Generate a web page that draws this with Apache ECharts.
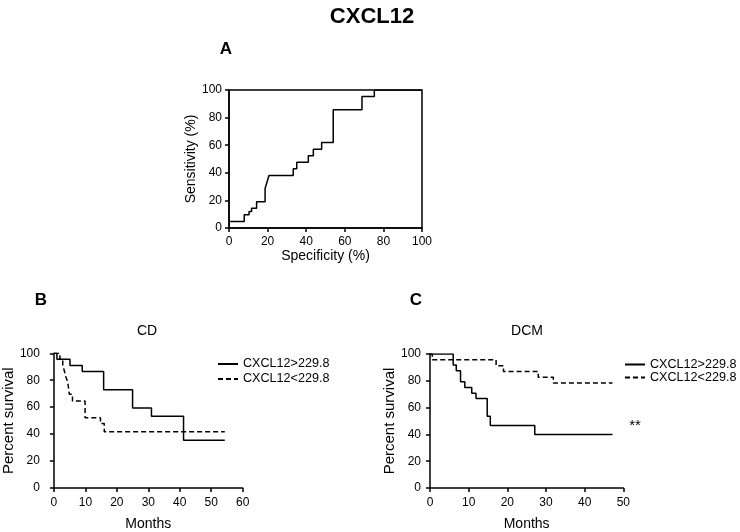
<!DOCTYPE html>
<html>
<head>
<meta charset="utf-8">
<script src="https://cdn.jsdelivr.net/npm/echarts@6/dist/echarts.min.js"></script>
<style>html,body{margin:0;padding:0;background:#fff;}#c{width:740px;height:532px;}</style>
</head>
<body>
<div id="c"></div>
<script>
// Panel A: ROC curve
const rocSpecificity = [0, 7.9, 10.4, 11.7, 14.3, 18.7, 19.7, 20.7, 33.3, 35.1, 41.1, 43.7, 48.0, 54.0, 68.9, 75.3, 100];
const rocSensitivity = [4.76, 9.52, 11.9, 14.29, 19.05, 28.57, 33.33, 38.10, 42.86, 47.62, 52.38, 57.14, 61.90, 85.71, 95.24, 100, 100];
// Panel B: CD survival
const cdHighMonths = [0, 0.95, 5.1, 9.0, 15.8, 25.0, 31.0, 41.2, 54.3];
const cdHighSurv   = [100, 95.5, 90.9, 86.4, 72.9, 59.4, 53.3, 35.5, 35.5];
const cdLowMonths  = [0, 1.9, 2.8, 3.3, 3.8, 4.4, 4.9, 5.9, 9.9, 14.8, 16.0, 54.3];
const cdLowSurv    = [100, 95.7, 91.3, 87.0, 82.6, 78.3, 69.6, 64.5, 52.2, 47.8, 41.7, 41.7];
// Panel C: DCM survival
const dcmHighMonths = [0, 6.0, 6.8, 7.9, 9.0, 10.8, 11.9, 14.8, 15.6, 27.1, 47.2];
const dcmHighSurv   = [100, 91.7, 87.5, 79.2, 75.0, 70.8, 66.7, 53.6, 46.7, 40.0, 40.0];
const dcmLowMonths  = [0, 0.6, 17.1, 19.0, 28.0, 31.9, 47.2];
const dcmLowSurv    = [100, 95.7, 91.3, 87.0, 82.6, 78.3, 78.3];
// Text
const mainTitle = 'CXCL12';
const panelLetters = ['A', 'B', 'C'];
const panelTitles = ['CD', 'DCM'];
const groupNames = ['CXCL12>229.8', 'CXCL12<229.8'];
const rocXName = 'Specificity (%)';
const rocYName = 'Sensitivity (%)';
const kmXName = 'Months';
const kmYName = 'Percent survival';
const signif = '**';

const FONT = 'Liberation Sans, Arial, sans-serif';
const zip = (a, b) => a.map((v, i) => [v, b[i]]);

function lbl(margin) {
  return { color: '#000', fontSize: 12, fontFamily: FONT, margin: margin };
}
function axisCommon(extra) {
  return Object.assign({
    type: 'value',
    splitLine: { show: false },
    axisLine: { show: true, onZero: false, lineStyle: { color: '#000', width: 1.5 } },
    axisTick: { show: true, length: 4, lineStyle: { color: '#000', width: 1.5 } },
    nameLocation: 'middle',
    nameTextStyle: { color: '#000', fontSize: 14, fontFamily: FONT }
  }, extra);
}
function ttl(text, x, y, size, weight) {
  return { text: text, left: x, top: y, padding: 0, textAlign: 'center',
    textStyle: { fontSize: size, fontWeight: weight, color: '#000', fontFamily: FONT } };
}

const lineSolid = { color: '#000', width: 1.5, type: 'solid' };
const lineDash = { color: '#000', width: 1.5, type: [5, 3] };

const chart = echarts.init(document.getElementById('c'), null, { renderer: 'canvas' });
chart.setOption({
  backgroundColor: '#fff',
  animation: false,
  textStyle: { fontFamily: FONT },
  title: [
    ttl(mainTitle, 372, 6, 22, 'bold'),
    ttl(panelLetters[0], 226, 41, 17, 'bold'),
    ttl(panelLetters[1], 41, 292, 17, 'bold'),
    ttl(panelLetters[2], 416, 292, 17, 'bold'),
    ttl(panelTitles[0], 147, 324, 14, 'normal'),
    ttl(panelTitles[1], 527, 324, 14, 'normal'),
    ttl(signif, 635, 418, 15, 'normal')
  ],
  legend: [
    { data: groupNames, orient: 'vertical', left: 217, top: 356.5, padding: 0, itemWidth: 20, itemHeight: 2, itemGap: 0,
      itemStyle: { opacity: 0 },
      textStyle: { color: '#000', fontSize: 12.6, lineHeight: 15, fontFamily: FONT }, selectedMode: false },
    { data: groupNames, orient: 'vertical', left: 624, top: 358, padding: 0, itemWidth: 20, itemHeight: 2, itemGap: 0,
      itemStyle: { opacity: 0 },
      textStyle: { color: '#000', fontSize: 12.6, lineHeight: 12, fontFamily: FONT }, selectedMode: false }
  ],
  grid: [
    { left: 229, top: 90, width: 193, height: 138, show: true, borderColor: '#000', borderWidth: 1.5, backgroundColor: 'transparent' },
    { left: 49.3, top: 353.3, width: 193.4, height: 139.4 },
    { left: 430, top: 354, width: 193.3, height: 138.7 }
  ],
  xAxis: [
    axisCommon({ gridIndex: 0, min: 0, max: 100, interval: 20, name: rocXName, nameGap: 19, axisLabel: lbl(8) }),
    axisCommon({ gridIndex: 1, min: 0, max: 60, interval: 10, name: kmXName, nameGap: 29, axisLabel: lbl(9) }),
    axisCommon({ gridIndex: 2, min: 0, max: 50, interval: 10, name: kmXName, nameGap: 29, axisLabel: lbl(9) })
  ],
  yAxis: [
    axisCommon({ gridIndex: 0, min: 0, max: 100, interval: 20, name: rocYName, nameGap: 27, axisLabel: lbl(7) }),
    axisCommon({ gridIndex: 1, min: 0, max: 100, interval: 20, name: kmYName, nameGap: 35, axisLabel: lbl(14),
      nameTextStyle: { color: '#000', fontSize: 15, fontFamily: FONT } }),
    axisCommon({ gridIndex: 2, min: 0, max: 100, interval: 20, name: kmYName, nameGap: 30, axisLabel: lbl(9),
      nameTextStyle: { color: '#000', fontSize: 15, fontFamily: FONT } })
  ],
  series: [
    { type: 'line', name: 'ROC', xAxisIndex: 0, yAxisIndex: 0, step: 'end', symbol: 'none', lineStyle: lineSolid, itemStyle: { color: '#000' }, data: zip(rocSpecificity, rocSensitivity) },
    { type: 'line', name: groupNames[0], xAxisIndex: 1, yAxisIndex: 1, step: 'end', symbol: 'none', lineStyle: lineSolid, itemStyle: { color: '#000' }, data: zip(cdHighMonths, cdHighSurv) },
    { type: 'line', name: groupNames[1], xAxisIndex: 1, yAxisIndex: 1, step: 'end', symbol: 'none', lineStyle: lineDash, itemStyle: { color: '#000' }, data: zip(cdLowMonths, cdLowSurv) },
    { type: 'line', name: groupNames[0], xAxisIndex: 2, yAxisIndex: 2, step: 'end', symbol: 'none', lineStyle: lineSolid, itemStyle: { color: '#000' }, data: zip(dcmHighMonths, dcmHighSurv) },
    { type: 'line', name: groupNames[1], xAxisIndex: 2, yAxisIndex: 2, step: 'end', symbol: 'none', lineStyle: lineDash, itemStyle: { color: '#000' }, data: zip(dcmLowMonths, dcmLowSurv) }
  ]
});
</script>
</body>
</html>
